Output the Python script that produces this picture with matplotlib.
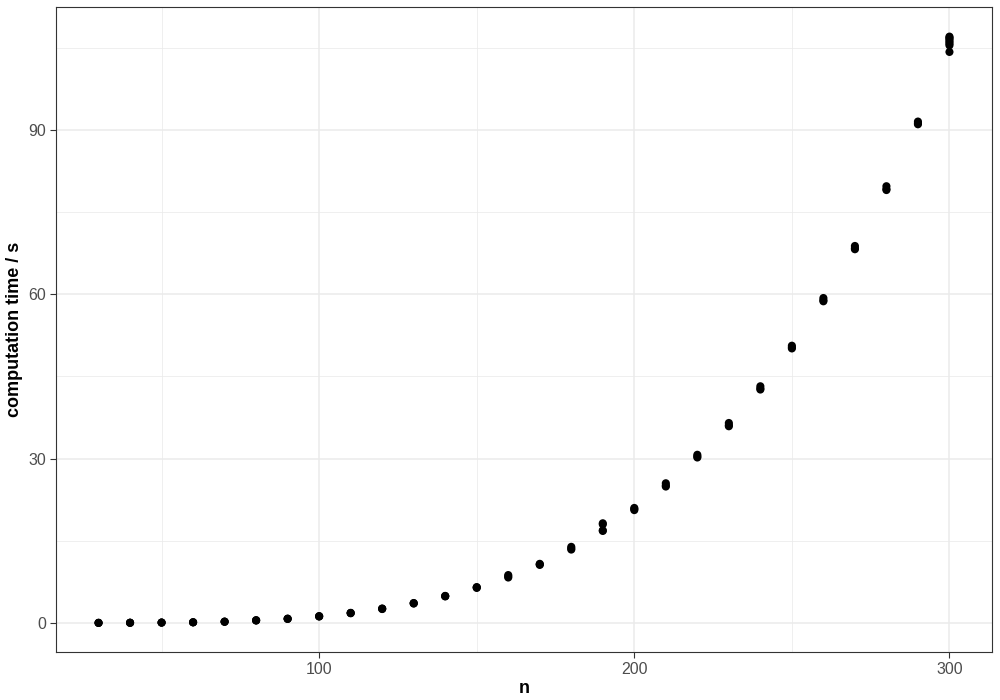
import matplotlib
matplotlib.use("Agg")
import matplotlib.pyplot as plt

plt.rcParams['font.family'] = ['Liberation Sans', 'DejaVu Sans']

# problem size n
n_values = [30, 40, 50, 60, 70, 80, 90, 100, 110, 120, 130, 140, 150, 160,
            170, 180, 190, 200, 210, 220, 230, 240, 250, 260, 270, 280, 290, 300]

# computation time (s) for repeated runs at each n
times = [
    [0.02, 0.03, 0.03],
    [0.04, 0.05, 0.05],
    [0.07, 0.08, 0.09],
    [0.12, 0.13, 0.14],
    [0.22, 0.24, 0.26],
    [0.45, 0.48, 0.52],
    [0.74, 0.77, 0.80],
    [1.18, 1.22, 1.26],
    [1.78, 1.82, 1.86],
    [2.55, 2.60, 2.65],
    [3.55, 3.60, 3.65],
    [4.85, 4.90, 4.95],
    [6.40, 6.50, 6.55],
    [8.30, 8.50, 8.75],
    [10.60, 10.70, 10.80],
    [13.40, 13.60, 13.90],
    [16.80, 16.90, 18.00, 18.20],
    [20.60, 20.80, 21.00],
    [24.90, 25.10, 25.50],
    [30.20, 30.40, 30.70],
    [35.90, 36.10, 36.50],
    [42.60, 42.80, 43.20],
    [50.10, 50.30, 50.60],
    [58.70, 58.90, 59.30],
    [68.20, 68.40, 68.80],
    [79.00, 79.20, 79.70],
    [91.00, 91.20, 91.50],
    [104.20, 105.40, 105.70, 106.00, 106.30, 106.60, 106.80, 107.00],
]

xs = []
ys = []
for n, ts in zip(n_values, times):
    for t in ts:
        xs.append(n)
        ys.append(t)

fig = plt.figure(figsize=(10, 7), dpi=100)
ax = fig.add_axes([0.056, 0.0681, 0.936, 0.9215])

ax.scatter(xs, ys, s=34, color='black', edgecolors='none', zorder=3)

xmin, xmax = min(n_values), max(n_values)
ymin, ymax = 0, max(max(t) for t in times)
xpad = 0.05 * (xmax - xmin)
ypad = 0.05 * (ymax - ymin)
ax.set_xlim(xmin - xpad, xmax + xpad)
ax.set_ylim(ymin - ypad, ymax + ypad)

ax.set_xticks([100, 200, 300])
ax.set_xticks([50, 150, 250], minor=True)
ax.set_yticks([0, 30, 60, 90])
ax.set_yticks([15, 45, 75, 105], minor=True)

ax.grid(which='major', color='#EBEBEB', linewidth=1.1, zorder=0)
ax.grid(which='minor', color='#EBEBEB', linewidth=0.55, zorder=0)
ax.set_axisbelow(True)

for sp in ax.spines.values():
    sp.set_color('#333333')
    sp.set_linewidth(0.8)

ax.tick_params(which='major', length=4, width=0.8, color='#333333',
               labelcolor='#4D4D4D', labelsize=11.5, pad=3)
ax.tick_params(which='minor', length=0)

ax.set_xlabel('n', fontsize=13, fontweight='bold', labelpad=2)
ax.set_ylabel('computation time / s', fontsize=13, fontweight='bold', labelpad=4)

fig.savefig('out.png', dpi=100)
